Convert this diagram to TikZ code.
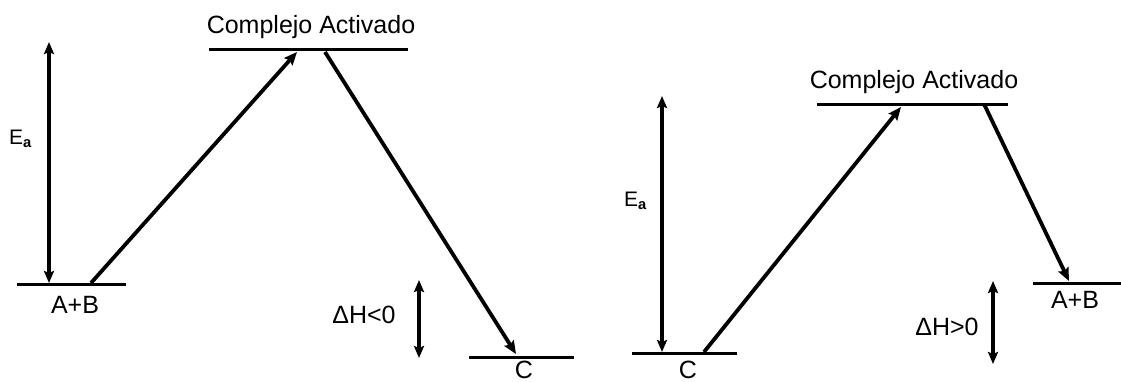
\documentclass[tikz,border=0pt]{standalone}
\usepackage{fontspec}
\setmainfont{Liberation Sans}
\usetikzlibrary{arrows.meta}
\tikzset{
  level/.style={line width=3pt},
  conn/.style={line width=3.8pt,-{Stealth[length=13pt,width=11pt,inset=2pt]}},
  dbl/.style={line width=3.8pt,{Stealth[length=12pt,width=10pt,inset=2pt]}-{Stealth[length=12pt,width=10pt,inset=2pt]}},
  lbl/.style={anchor=base,inner sep=0pt,font=\fontsize{25}{29}\selectfont},
  ealbl/.style={anchor=base west,inner sep=0pt,font=\fontsize{21}{25}\selectfont}
}
\begin{document}
\begin{tikzpicture}[x=1pt,y=-1pt]
\useasboundingbox (0,0) rectangle (1121,381);
% ---------- left diagram ----------
\coordinate (abL1) at (17,284);   \coordinate (abL2) at (126,284);
\coordinate (caL1) at (209,49);   \coordinate (caL2) at (408,49);
\coordinate (cL1)  at (469,357);  \coordinate (cL2)  at (574,357);
\draw[level] (abL1) -- (abL2);
\draw[level] (caL1) -- (caL2);
\draw[level] (cL1) -- (cL2);
\node[lbl] (tcaL) at (311,33) {Complejo Activado};
\node[lbl] (tabL) at (75,313) {A+B};
\node[lbl] (tcL)  at (524,378) {C};
\coordinate (eaLtop) at (49,42);  \coordinate (eaLbot) at (49,283);
\draw[dbl] (eaLbot) -- (eaLtop);
\node[ealbl] (teaL) at (9,144) {E$_{\mathbf{a}}$};
\coordinate (upLs) at (91,283);   \coordinate (upLe) at (297,52);
\draw[conn] (upLs) -- (upLe);
\coordinate (dnLs) at (325,52);   \coordinate (dnLe) at (516,354);
\draw[conn] (dnLs) -- (dnLe);
\coordinate (dhLt) at (419,280);  \coordinate (dhLb) at (419,358);
\draw[dbl] (dhLt) -- (dhLb);
\node[lbl] (tdhL) at (364,323) {ΔH<0};
% ---------- right diagram ----------
\coordinate (cR1)  at (632,353);  \coordinate (cR2)  at (737,353);
\coordinate (caR1) at (817,104);  \coordinate (caR2) at (1008,104);
\coordinate (abR1) at (1033,283); \coordinate (abR2) at (1121,283);
\draw[level] (cR1) -- (cR2);
\draw[level] (caR1) -- (caR2);
\draw[level] (abR1) -- (abR2);
\node[lbl] (tcaR) at (914,88) {Complejo Activado};
\node[lbl] (tabR) at (1075,308) {A+B};
\node[lbl] (tcR)  at (688,378) {C};
\coordinate (eaRtop) at (662,96); \coordinate (eaRbot) at (662,352);
\draw[dbl] (eaRbot) -- (eaRtop);
\node[ealbl] (teaR) at (624,206) {E$_{\mathbf{a}}$};
\coordinate (upRs) at (704,352);  \coordinate (upRe) at (901,107);
\draw[conn] (upRs) -- (upRe);
\coordinate (dnRs) at (984,104);  \coordinate (dnRe) at (1069,281);
\draw[conn] (dnRs) -- (dnRe);
\coordinate (dhRt) at (993,281);  \coordinate (dhRb) at (993,364);
\draw[dbl] (dhRt) -- (dhRb);
\node[lbl] (tdhR) at (947,335) {ΔH>0};
\end{tikzpicture}
\end{document}
